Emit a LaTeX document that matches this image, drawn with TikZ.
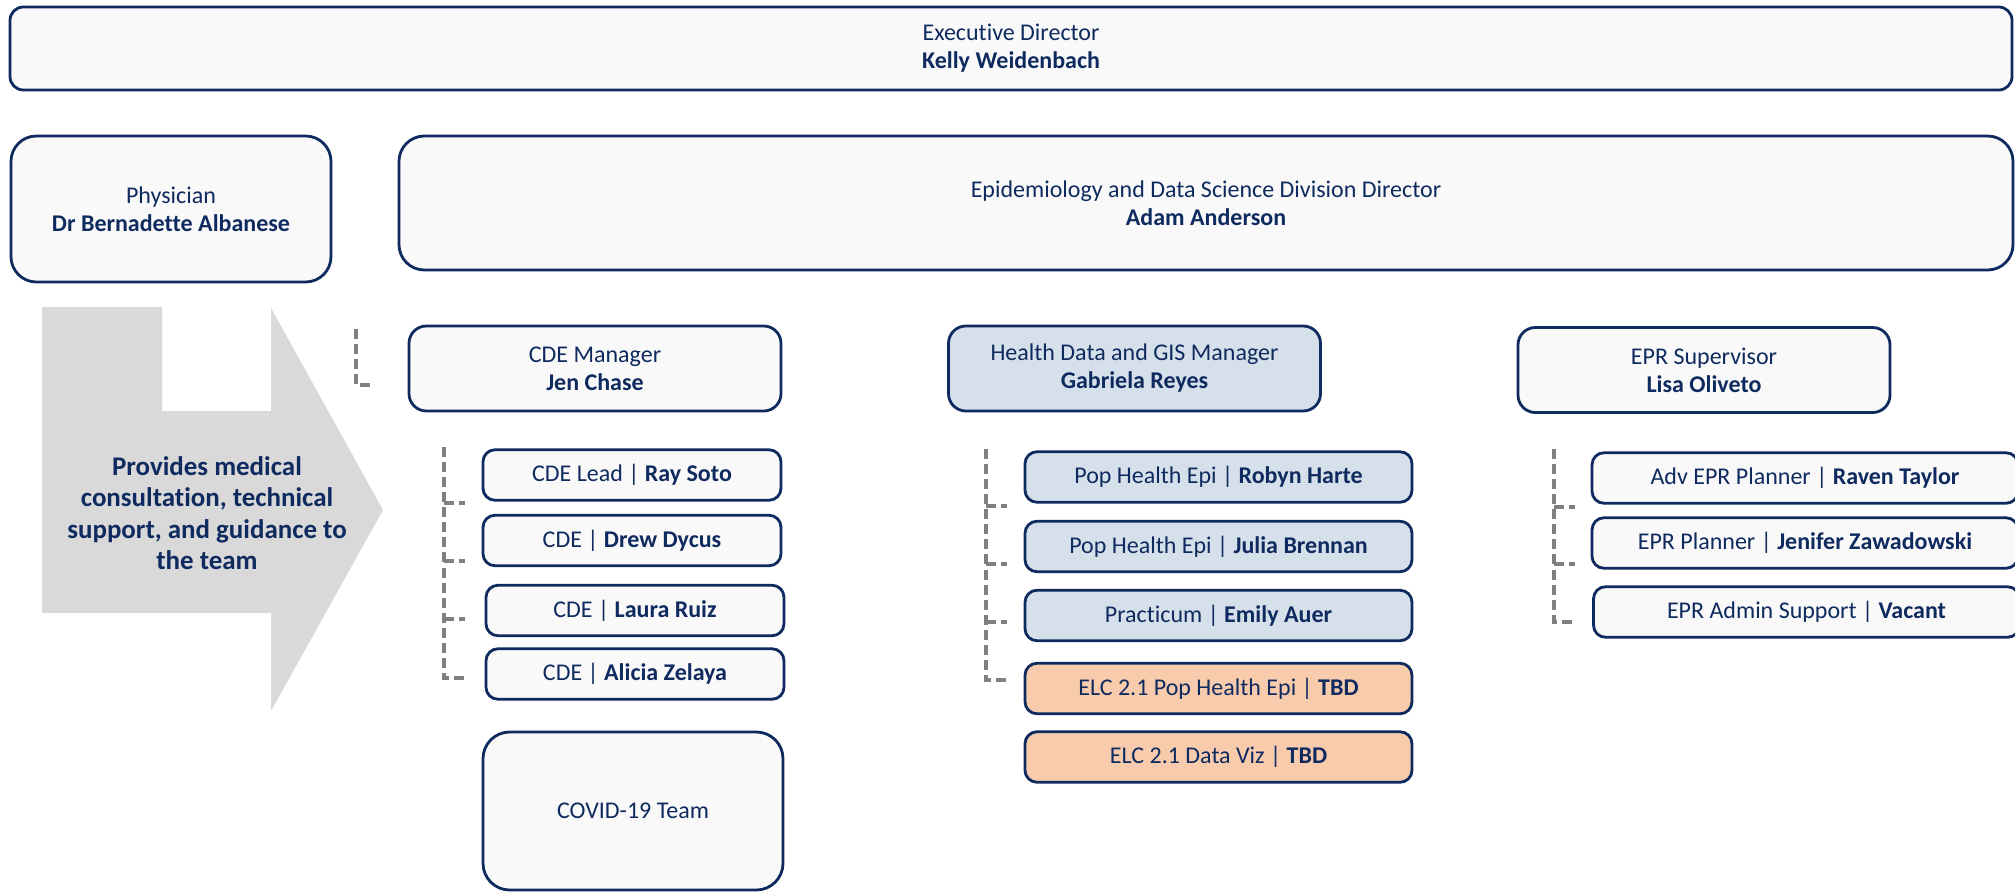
\documentclass[tikz,border=0pt]{standalone}
\usepackage{fontspec}
\setmainfont{Carlito}[Ligatures=NoCommon, Contextuals=NoAlternate]
\definecolor{navy}{HTML}{0E2A5E}
\definecolor{boxfill}{HTML}{F9F9F9}
\definecolor{bluefill}{HTML}{D6E0EB}
\definecolor{orangefill}{HTML}{F8CBAD}
\definecolor{arrowgray}{HTML}{D9D9D9}
\definecolor{dashgray}{HTML}{808080}
\begin{document}
\begin{tikzpicture}[x=0.75pt,y=-0.75pt,
  orgbox/.style={draw=navy, line width=2.1pt, fill=boxfill, text=navy, inner sep=0pt,
    align=center, font=\fontsize{18}{21}\selectfont},
  bigbox/.style={orgbox, rounded corners=19pt},
  mgrbox/.style={orgbox, rounded corners=13pt, minimum width=279pt, minimum height=63.75pt},
  smallbox/.style={orgbox, rounded corners=9pt, minimum height=37.9pt},
  cdebox/.style={smallbox, minimum width=223.5pt},
  hdbox/.style={smallbox, minimum width=290.25pt},
  eprbox/.style={smallbox, minimum width=319.5pt},
  bluebox/.style={fill=bluefill},
  orangebox/.style={fill=orangefill},
  dashline/.style={draw=dashgray, line width=2.5pt, dash pattern=on 7.5pt off 3.8pt},
]
\useasboundingbox (0,0) rectangle (2015,892);

% grey arrow
\fill[arrowgray] (42,307) -- (162,307) -- (162,411) -- (271,411) -- (271,308)
  -- (383,510) -- (271,711) -- (271,613) -- (42,613) -- cycle;
\node[text=navy, align=center, font=\bfseries\fontsize{20.2}{23.5}\selectfont] (arrowtext) at (207,513)
  {Provides medical\\consultation, technical\\support, and guidance to\\the team};

% top level
\node[orgbox, rounded corners=10pt, minimum width=1501.5pt, minimum height=62.25pt] (exec) at (1011,48.5)
  {Executive Director\\\textbf{Kelly Weidenbach}};
\node[bigbox, minimum width=240pt, minimum height=109.5pt] (phys) at (171,209)
  {Physician\\\textbf{Dr Bernadette Albanese}};
\node[bigbox, minimum width=1210.5pt, minimum height=100.5pt] (div) at (1206,203)
  {Epidemiology and Data Science Division Director\\\textbf{Adam Anderson}};

% managers
\node[mgrbox] (cdemgr) at (595,368.5) {CDE Manager\\\textbf{Jen Chase}};
\node[mgrbox, bluebox] (hdmgr) at (1134.5,368.5) {Health Data and GIS Manager\\\textbf{Gabriela Reyes}};
\node[mgrbox] (eprsup) at (1704,370) {EPR Supervisor\\\textbf{Lisa Oliveto}};

% CDE team
\node[cdebox] (ray) at (632,475) {CDE Lead | \textbf{Ray Soto}};
\node[cdebox] (drew) at (632,540.5) {CDE | \textbf{Drew Dycus}};
\node[cdebox] (laura) at (635,610.5) {CDE | \textbf{Laura Ruiz}};
\node[cdebox] (alicia) at (635,674) {CDE | \textbf{Alicia Zelaya}};
\node[orgbox, rounded corners=20pt, minimum width=225pt, minimum height=118.5pt] (covid) at (633,811) {COVID-19 Team};

% Health data team
\node[hdbox, bluebox] (robyn) at (1218.5,477) {Pop Health Epi | \textbf{Robyn Harte}};
\node[hdbox, bluebox] (julia) at (1218.5,546.5) {Pop Health Epi | \textbf{Julia Brennan}};
\node[hdbox, bluebox] (emily) at (1218.5,615.5) {Practicum | \textbf{Emily Auer}};
\node[hdbox, orangebox] (elcpop) at (1218.5,688.5) {ELC 2.1 Pop Health Epi | \textbf{TBD}};
\node[hdbox, orangebox] (elcviz) at (1218.5,757) {ELC 2.1 Data Viz | \textbf{TBD}};

% EPR team
\node[eprbox] (raven) at (1805,478) {Adv EPR Planner | \textbf{Raven Taylor}};
\node[eprbox] (jenifer) at (1805,543) {EPR Planner | \textbf{Jenifer Zawadowski}};
\node[eprbox] (vacant) at (1806.5,612) {EPR Admin Support | \textbf{Vacant}};

% dashed brackets
\coordinate (mb0) at (356,329);
\coordinate (mb1) at (356,385);
\coordinate (mt1) at (371,385);
\draw[dashline] (mb0) -- (mb1) -- (mt1);

\coordinate (cb0) at (444,447);
\foreach \i/\y in {1/503,2/561,3/619,4/678}{
  \coordinate (cb\i) at (444,\y);
  \coordinate (ct\i) at (465,\y);
}
\draw[dashline] (cb0) -- (cb4) -- (ct4);
\foreach \i in {1,2,3}{ \draw[dashline] (cb\i) -- (ct\i); }

\coordinate (hb0) at (986,449);
\foreach \i/\y in {1/506,2/564,3/622,4/680}{
  \coordinate (hb\i) at (986,\y);
  \coordinate (ht\i) at (1007,\y);
}
\draw[dashline] (hb0) -- (hb4) -- (ht4);
\foreach \i in {1,2,3}{ \draw[dashline] (hb\i) -- (ht\i); }

\coordinate (eb0) at (1554,449);
\foreach \i/\y in {1/507,2/564,3/622}{
  \coordinate (eb\i) at (1554,\y);
  \coordinate (et\i) at (1575,\y);
}
\draw[dashline] (eb0) -- (eb3) -- (et3);
\foreach \i in {1,2}{ \draw[dashline] (eb\i) -- (et\i); }
\end{tikzpicture}
\end{document}
